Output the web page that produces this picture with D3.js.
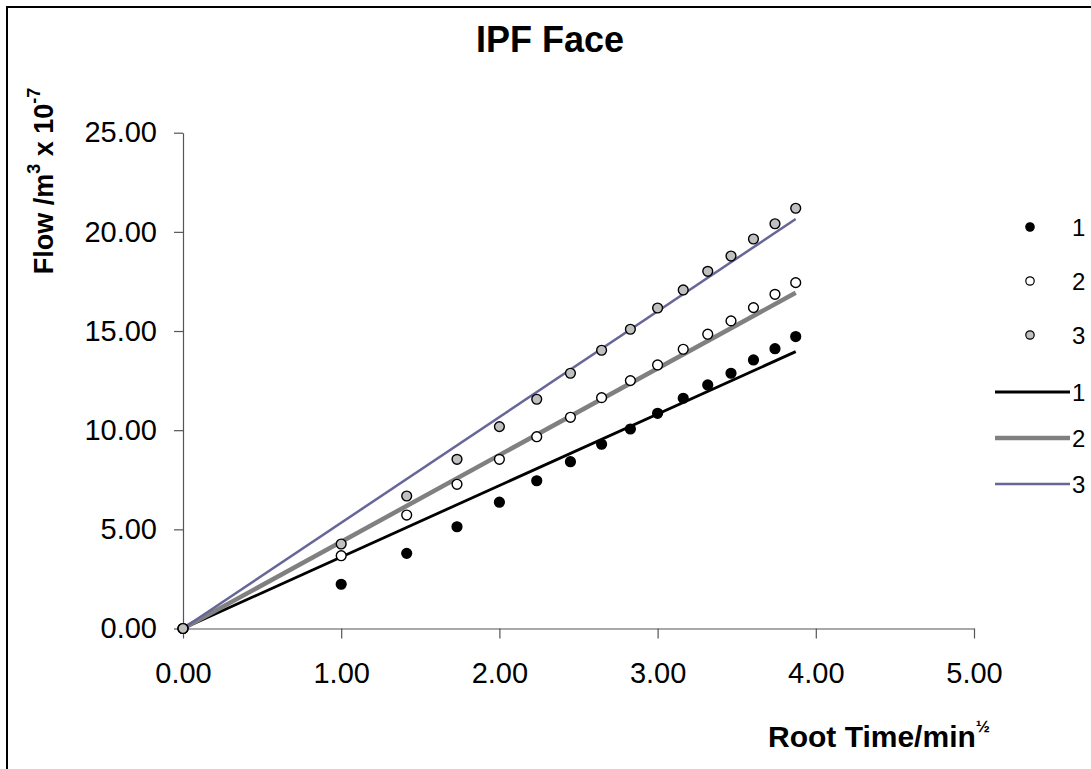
<!DOCTYPE html>
<html>
<head>
<meta charset="utf-8">
<script src="https://cdn.jsdelivr.net/npm/d3@7"></script>
<style>
  body { margin: 0; background: #fff; }
  svg { font-family: Arial, "Liberation Sans", sans-serif; }
</style>
</head>
<body>
<svg id="chart" width="1091" height="769"></svg>
<script>
// root time values (sqrt of minutes 0..15)
const rootTime = [0, 1, 1.414, 1.732, 2, 2.236, 2.449, 2.646, 2.828, 3, 3.162, 3.317, 3.464, 3.606, 3.742, 3.873];

// measured flow, m^3 x 10^-7
const flow1 = [0, 2.23, 3.79, 5.13, 6.37, 7.45, 8.41, 9.29, 10.06, 10.85, 11.61, 12.28, 12.87, 13.54, 14.11, 14.72];
const flow2 = [0, 3.67, 5.72, 7.27, 8.53, 9.67, 10.65, 11.64, 12.50, 13.29, 14.08, 14.84, 15.51, 16.18, 16.85, 17.44];
const flow3 = [0, 4.26, 6.68, 8.53, 10.18, 11.56, 12.87, 14.03, 15.09, 16.16, 17.07, 18.01, 18.78, 19.64, 20.41, 21.19];

// fitted lines (start and end points)
const fitX = [0, 3.873];
const fit1 = [0, 13.96];
const fit2 = [0, 16.93];
const fit3 = [0, 20.65];

const xTicks = [0, 1, 2, 3, 4, 5];
const yTicks = [0, 5, 10, 15, 20, 25];
const seriesNames = ['1', '2', '3'];

const svg = d3.select('#chart');

const x = d3.scaleLinear().domain([0, 5]).range([183, 974]);
const y = d3.scaleLinear().domain([0, 25]).range([628.5, 132.7]);

// outer chart frame
svg.append('rect')
    .attr('x', 7).attr('y', 7)
    .attr('width', 1100).attr('height', 800)
    .attr('fill', 'none')
    .attr('stroke', '#000')
    .attr('stroke-width', 2);

// title
svg.append('text')
    .attr('x', 550).attr('y', 52)
    .attr('text-anchor', 'middle')
    .style('font-size', '36px')
    .style('font-weight', 'bold')
    .text('IPF Face');

// axes
const fmt = d3.format('.2f');

const xAxis = svg.append('g')
    .attr('transform', `translate(0,${y(0)})`)
    .call(d3.axisBottom(x).tickValues(xTicks).tickFormat(fmt).tickSize(10).tickSizeOuter(0).tickPadding(24));

const yAxis = svg.append('g')
    .attr('transform', `translate(${x(0)},0)`)
    .call(d3.axisLeft(y).tickValues(yTicks).tickFormat(fmt).tickSize(9).tickSizeOuter(0).tickPadding(17));

[xAxis, yAxis].forEach(g => {
    g.select('.domain').attr('stroke', '#555').attr('stroke-width', 1.2);
    g.selectAll('.tick line').attr('stroke', '#555').attr('stroke-width', 1.2);
    g.selectAll('.tick text')
        .attr('fill', '#000')
        .style('font-size', '29px')
        .style('font-family', 'Arial, "Liberation Sans", sans-serif');
});

// axis titles
const yLabel = svg.append('text')
    .attr('transform', 'translate(53,181) rotate(-90)')
    .attr('text-anchor', 'middle')
    .style('font-size', '27px')
    .style('font-weight', 'bold');
yLabel.append('tspan').text('Flow /m');
yLabel.append('tspan').attr('dy', -13).style('font-size', '18px').text('3');
yLabel.append('tspan').attr('dy', 13).text(' x 10');
yLabel.append('tspan').attr('dy', -13).style('font-size', '18px').text('-7');

const xLabel = svg.append('text')
    .attr('x', 768).attr('y', 747)
    .style('font-size', '30px')
    .style('font-weight', 'bold');
xLabel.append('tspan').text('Root Time/min');
xLabel.append('tspan').attr('dy', -15).style('font-size', '17px').text('½');

// fitted lines
const line = d3.line().x(d => x(d[0])).y(d => y(d[1]));
const fits = [
    { vals: fit1, color: '#000000', width: 2.8 },
    { vals: fit2, color: '#808080', width: 4.5 },
    { vals: fit3, color: '#666699', width: 2.5 }
];
fits.forEach(f => {
    svg.append('path')
        .datum(fitX.map((t, i) => [t, f.vals[i]]))
        .attr('d', line)
        .attr('fill', 'none')
        .attr('stroke', f.color)
        .attr('stroke-width', f.width);
});

// data points
const pointSeries = [
    { vals: flow1, fill: '#000000' },
    { vals: flow2, fill: '#ffffff' },
    { vals: flow3, fill: '#c0c0c0' }
];
pointSeries.forEach(s => {
    svg.append('g').selectAll('circle')
        .data(rootTime.map((t, i) => [t, s.vals[i]]))
        .enter()
        .append('circle')
        .attr('cx', d => x(d[0]))
        .attr('cy', d => y(d[1]))
        .attr('r', 4.9)
        .attr('fill', s.fill)
        .attr('stroke', '#000')
        .attr('stroke-width', 1.4);
});

// legend
const legendY = [227, 281, 335, 392, 438, 484];
const legend = svg.append('g');
pointSeries.forEach((s, i) => {
    legend.append('circle')
        .attr('cx', 1030).attr('cy', legendY[i])
        .attr('r', 4.2)
        .attr('fill', s.fill)
        .attr('stroke', '#000')
        .attr('stroke-width', 1.2);
    legend.append('text')
        .attr('x', 1072).attr('y', legendY[i] + 9)
        .style('font-size', '24px')
        .text(seriesNames[i]);
});
fits.forEach((f, i) => {
    const ly = legendY[i + 3];
    legend.append('line')
        .attr('x1', 995).attr('x2', 1070)
        .attr('y1', ly).attr('y2', ly)
        .attr('stroke', f.color)
        .attr('stroke-width', f.width);
    legend.append('text')
        .attr('x', 1072).attr('y', ly + 9)
        .style('font-size', '24px')
        .text(seriesNames[i]);
});
</script>
</body>
</html>
